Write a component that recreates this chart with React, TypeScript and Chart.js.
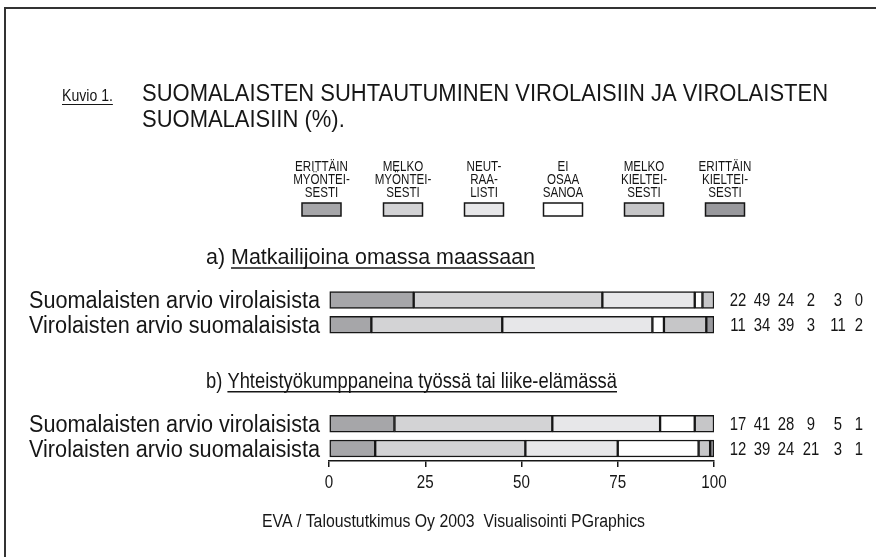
import React, { useEffect, useRef } from "react";
import { Chart, registerables } from "chart.js";
Chart.register(...registerables);

const rowLabels = [
  "Suomalaisten arvio virolaisista",
  "Virolaisten arvio suomalaisista",
  "",
  "",
  "",
  "Suomalaisten arvio virolaisista",
  "Virolaisten arvio suomalaisista",
];
const seriesNames = [
  "ERITTÄIN MYÖNTEISESTI",
  "MELKO MYÖNTEISESTI",
  "NEUTRAALISTI",
  "EI OSAA SANOA",
  "MELKO KIELTEISESTI",
  "ERITTÄIN KIELTEISESTI",
];
const legendLines = [
  ["ERITTÄIN", "MYÖNTEI-", "SESTI"],
  ["MELKO", "MYÖNTEI-", "SESTI"],
  ["NEUT-", "RAA-", "LISTI"],
  ["EI", "OSAA", "SANOA"],
  ["MELKO", "KIELTEI-", "SESTI"],
  ["ERITTÄIN", "KIELTEI-", "SESTI"],
];
const erittainMyonteisesti = [22, 11, null, null, null, 17, 12];
const melkoMyonteisesti = [49, 34, null, null, null, 41, 39];
const neutraalisti = [24, 39, null, null, null, 28, 24];
const eiOsaaSanoa = [2, 3, null, null, null, 9, 21];
const melkoKielteisesti = [3, 11, null, null, null, 5, 3];
const erittainKielteisesti = [0, 2, null, null, null, 1, 1];
const xTicks = [0, 25, 50, 75, 100];
const sectionHeadings = [
  { prefix: "a) ", text: "Matkailijoina omassa maassaan", aboveRow: 0, width: 329 },
  { prefix: "b) ", text: "Yhteistyökumppaneina työssä tai liike-elämässä", aboveRow: 5, width: 411 },
];
const titleLabel = "Kuvio 1.";
const titleLines = [
  "SUOMALAISTEN SUHTAUTUMINEN VIROLAISIIN JA VIROLAISTEN",
  "SUOMALAISIIN (%).",
];
const footerText = "EVA / Taloustutkimus Oy 2003  Visualisointi PGraphics";

const seriesData = [
  erittainMyonteisesti,
  melkoMyonteisesti,
  neutraalisti,
  eiOsaaSanoa,
  melkoKielteisesti,
  erittainKielteisesti,
];
const colors = ["#a6a6a9", "#d3d3d5", "#e7e7e9", "#ffffff", "#c6c6c8", "#99999d"];

const FONT = '"Liberation Sans", Arial, Helvetica, sans-serif';
const INK = "#161616";
const valueCols = [738, 762, 786, 811, 838, 859];
const legendCenters = [321.5, 403, 484, 563, 644, 725];

// draws text squeezed horizontally by sx (narrow Helvetica look)
function drawText(ctx: any, s: string, x: number, y: number, size: number, align: string, sx: number) {
  ctx.save();
  ctx.font = `${size}px ${FONT}`;
  ctx.textAlign = align;
  ctx.translate(x, y);
  ctx.scale(sx, 1);
  ctx.fillText(s, 0, 0);
  const w = ctx.measureText(s).width * sx;
  ctx.restore();
  return w;
}
function fitScale(ctx: any, s: string, size: number, target: number) {
  ctx.save();
  ctx.font = `${size}px ${FONT}`;
  const w = ctx.measureText(s).width;
  ctx.restore();
  return Math.min(1, target / w);
}

const decorPlugin = {
  id: "decor",
  afterDraw(chart: any) {
    const ctx = chart.ctx;
    const yScale = chart.scales.y;
    const xScale = chart.scales.x;
    ctx.save();
    ctx.fillStyle = INK;
    ctx.strokeStyle = INK;
    ctx.textBaseline = "alphabetic";

    // title
    const kw = drawText(ctx, titleLabel, 62, 101, 16, "left", 0.88);
    ctx.lineWidth = 1;
    ctx.beginPath();
    ctx.moveTo(62, 104.5);
    ctx.lineTo(62 + kw, 104.5);
    ctx.stroke();
    const tsx = fitScale(ctx, titleLines[0], 24.5, 686);
    titleLines.forEach((t, i) => drawText(ctx, t, 142, 101 + i * 26, 24.5, "left", tsx));

    // legend
    legendLines.forEach((lines, i) => {
      const cx = legendCenters[i];
      ctx.fillStyle = INK;
      lines.forEach((l, k) => drawText(ctx, l, cx, 171 + k * 13, 14.5, "center", 0.8));
      ctx.fillStyle = colors[i];
      ctx.fillRect(cx - 19.5, 203, 39, 13);
      ctx.lineWidth = 1.5;
      ctx.strokeRect(cx - 19.5, 203, 39, 13);
    });
    ctx.fillStyle = INK;

    // section headings
    sectionHeadings.forEach((h) => {
      const y = yScale.getPixelForValue(h.aboveRow) - 36;
      const x0 = 206;
      const sx = fitScale(ctx, h.prefix + h.text, 22.5, h.width);
      const pw = drawText(ctx, h.prefix, x0, y, 22.5, "left", sx);
      const tw = drawText(ctx, h.text, x0 + pw, y, 22.5, "left", sx);
      ctx.lineWidth = 1.5;
      ctx.beginPath();
      ctx.moveTo(x0 + pw, y + 4);
      ctx.lineTo(x0 + pw + tw, y + 4);
      ctx.stroke();
    });

    // row labels
    rowLabels.forEach((lab, i) => {
      if (!lab) return;
      const y = yScale.getPixelForValue(i) + 8;
      const sx = fitScale(ctx, lab, 23, 291);
      drawText(ctx, lab, 320, y, 23, "right", sx);
    });

    // values on the right
    rowLabels.forEach((lab, i) => {
      if (!lab) return;
      const y = yScale.getPixelForValue(i) + 6.5;
      seriesData.forEach((s, j) => {
        const v = s[i];
        if (v === null) return;
        drawText(ctx, String(v), valueCols[j], y, 17.5, "center", 0.85);
      });
    });

    // x tick labels
    xTicks.forEach((v) => {
      drawText(ctx, String(v), xScale.getPixelForValue(v), 488, 18.5, "center", 0.82);
    });

    // footer
    const fsx = fitScale(ctx, footerText, 18, 383);
    drawText(ctx, footerText, 453.5, 526.5, 18, "center", fsx);
    ctx.restore();
  },
};

export default function App() {
  const ref = useRef<HTMLCanvasElement>(null);
  useEffect(() => {
    const chart = new Chart(ref.current as HTMLCanvasElement, {
      type: "bar",
      data: {
        labels: rowLabels,
        datasets: seriesData.map((d, i) => ({
          label: seriesNames[i],
          data: d,
          backgroundColor: colors[i],
          borderColor: INK,
          borderWidth: 1.5,
          borderSkipped: false,
          barThickness: 17,
        })),
      },
      options: {
        indexAxis: "y",
        responsive: false,
        animation: false,
        events: [],
        layout: { padding: { top: 287.6, right: 162, left: 0, bottom: 0 } },
        scales: {
          x: {
            stacked: true,
            min: 0,
            max: 100,
            afterBuildTicks: (s: any) => {
              s.ticks = xTicks.map((v) => ({ value: v }));
            },
            afterFit: (s: any) => {
              s.height = 557 - 460.9;
            },
            ticks: { display: false },
            grid: { drawOnChartArea: false, drawTicks: true, tickLength: 6, color: INK, lineWidth: 1.5 },
            border: { display: true, color: INK, width: 1.5 },
          },
          y: {
            stacked: true,
            afterFit: (s: any) => {
              s.width = 329;
            },
            grid: { display: false, drawTicks: false },
            border: { display: false },
            ticks: { display: false },
          },
        },
        plugins: { legend: { display: false }, tooltip: { enabled: false } },
      },
      plugins: [decorPlugin],
    });
    return () => chart.destroy();
  }, []);
  return (
    <div style={{ position: "absolute", left: 0, top: 0, width: 876, height: 557, overflow: "hidden", background: "#fff" }}>
      <div style={{ position: "absolute", left: 4, top: 7, width: 1000, height: 1000, borderLeft: "2px solid #333", borderTop: "2px solid #333" }} />
      <canvas ref={ref} width={876} height={557} style={{ position: "absolute", left: 0, top: 0, width: 876, height: 557 }} />
    </div>
  );
}
